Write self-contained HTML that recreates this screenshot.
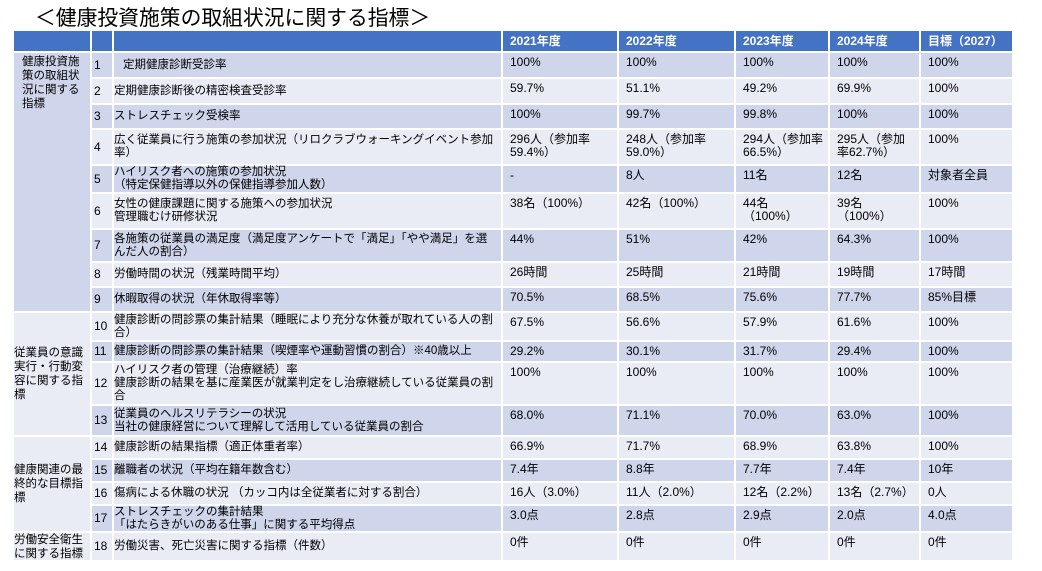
<!DOCTYPE html>
<html><head><meta charset="utf-8">
<style>
html,body{margin:0;padding:0;background:#fff;}
body{width:1042px;height:571px;position:relative;overflow:hidden;font-family:"Liberation Sans","Noto Sans CJK JP",sans-serif;color:#000;}
.title{position:absolute;left:35px;top:8px;font-size:20.8px;line-height:21px;white-space:nowrap;color:#000;}
.grid{position:absolute;left:14px;top:31px;display:grid;
grid-template-columns:76px 20px 387px 114px 115px 92px 89px 91px;
grid-template-rows:20px 24px 24px 23px 34px 26px 34px 31px 23px 23px 27px 19px 41px 29px 21px 21px 21px 25px 27px;
gap:2px;font-size:11.5px;line-height:13px;}
.grid>div{white-space:nowrap;box-sizing:border-box;}
.h{background:#4472C4;color:#fff;font-weight:bold;font-size:12px;display:flex;align-items:center;padding-left:7px;}
.d{background:#CFD5EA;}
.l{background:#E9EBF5;}
.n{display:flex;align-items:center;padding-left:2px;font-size:12px;}
.t{display:flex;align-items:center;padding-left:0px;}
.v{padding:3px 0 0 7px;font-size:12px;}
.g{line-height:14px;}
.g1{grid-column:1;grid-row:2 / 11;padding:2px 0 0 8px;}
.g2{grid-column:1;grid-row:11 / 15;display:flex;align-items:center;}
.g3{grid-column:1;grid-row:15 / 19;display:flex;align-items:center;}
.g4{grid-column:1;grid-row:19 / 20;display:flex;align-items:center;}
</style></head><body>
<div class="title">＜健康投資施策の取組状況に関する指標＞</div>
<div class="grid">
<div class="h"></div><div class="h"></div><div class="h"></div>
<div class="h">2021年度</div><div class="h">2022年度</div><div class="h">2023年度</div><div class="h">2024年度</div><div class="h">目標（2027）</div>

<div class="g g1 d">健康投資施<br>策の取組状<br>況に関する<br>指標</div>
<div class="n d">1</div><div class="t d"><span style="margin-left:9px">定期健康診断受診率</span></div>
<div class="v d">100%</div><div class="v d">100%</div><div class="v d">100%</div><div class="v d">100%</div><div class="v d">100%</div>

<div class="n l">2</div><div class="t l">定期健康診断後の精密検査受診率</div>
<div class="v l">59.7%</div><div class="v l">51.1%</div><div class="v l">49.2%</div><div class="v l">69.9%</div><div class="v l">100%</div>

<div class="n d">3</div><div class="t d">ストレスチェック受検率</div>
<div class="v d">100%</div><div class="v d">99.7%</div><div class="v d">99.8%</div><div class="v d">100%</div><div class="v d">100%</div>

<div class="n l">4</div><div class="t l"><div>広く従業員に行う施策の参加状況（リロクラブウォーキングイベント参加<br>率）</div></div>
<div class="v l">296人（参加率<br>59.4%）</div><div class="v l">248人（参加率<br>59.0%）</div><div class="v l">294人（参加率<br>66.5%）</div><div class="v l">295人（参加<br>率62.7%）</div><div class="v l">100%</div>

<div class="n d">5</div><div class="t d"><div>ハイリスク者への施策の参加状況<br>（特定保健指導以外の保健指導参加人数）</div></div>
<div class="v d">-</div><div class="v d">8人</div><div class="v d">11名</div><div class="v d">12名</div><div class="v d">対象者全員</div>

<div class="n l">6</div><div class="t l"><div>女性の健康課題に関する施策への参加状況<br>管理職むけ研修状況</div></div>
<div class="v l">38名（100%）</div><div class="v l">42名（100%）</div><div class="v l">44名<br>（100%）</div><div class="v l">39名<br>（100%）</div><div class="v l">100%</div>

<div class="n d">7</div><div class="t d"><div>各施策の従業員の満足度（満足度アンケートで「満足」「やや満足」を選<br>んだ人の割合）</div></div>
<div class="v d">44%</div><div class="v d">51%</div><div class="v d">42%</div><div class="v d">64.3%</div><div class="v d">100%</div>

<div class="n l">8</div><div class="t l">労働時間の状況（残業時間平均）</div>
<div class="v l">26時間</div><div class="v l">25時間</div><div class="v l">21時間</div><div class="v l">19時間</div><div class="v l">17時間</div>

<div class="n d">9</div><div class="t d">休暇取得の状況（年休取得率等）</div>
<div class="v d">70.5%</div><div class="v d">68.5%</div><div class="v d">75.6%</div><div class="v d">77.7%</div><div class="v d">85%目標</div>

<div class="g g2 l">従業員の意識<br>実行・行動変<br>容に関する指<br>標</div>
<div class="n l">10</div><div class="t l"><div>健康診断の問診票の集計結果（睡眠により充分な休養が取れている人の割<br>合）</div></div>
<div class="v l">67.5%</div><div class="v l">56.6%</div><div class="v l">57.9%</div><div class="v l">61.6%</div><div class="v l">100%</div>

<div class="n d">11</div><div class="t d">健康診断の問診票の集計結果（喫煙率や運動習慣の割合）※40歳以上</div>
<div class="v d">29.2%</div><div class="v d">30.1%</div><div class="v d">31.7%</div><div class="v d">29.4%</div><div class="v d">100%</div>

<div class="n l">12</div><div class="t l"><div>ハイリスク者の管理（治療継続）率<br>健康診断の結果を基に産業医が就業判定をし治療継続している従業員の割<br>合</div></div>
<div class="v l">100%</div><div class="v l">100%</div><div class="v l">100%</div><div class="v l">100%</div><div class="v l">100%</div>

<div class="n d">13</div><div class="t d"><div>従業員のヘルスリテラシーの状況<br>当社の健康経営について理解して活用している従業員の割合</div></div>
<div class="v d">68.0%</div><div class="v d">71.1%</div><div class="v d">70.0%</div><div class="v d">63.0%</div><div class="v d">100%</div>

<div class="g g3 l">健康関連の最<br>終的な目標指<br>標</div>
<div class="n l">14</div><div class="t l">健康診断の結果指標（適正体重者率）</div>
<div class="v l">66.9%</div><div class="v l">71.7%</div><div class="v l">68.9%</div><div class="v l">63.8%</div><div class="v l">100%</div>

<div class="n d">15</div><div class="t d">離職者の状況（平均在籍年数含む）</div>
<div class="v d">7.4年</div><div class="v d">8.8年</div><div class="v d">7.7年</div><div class="v d">7.4年</div><div class="v d">10年</div>

<div class="n l">16</div><div class="t l">傷病による休職の状況 （カッコ内は全従業者に対する割合）</div>
<div class="v l">16人（3.0%）</div><div class="v l">11人（2.0%）</div><div class="v l">12名（2.2%）</div><div class="v l">13名（2.7%）</div><div class="v l">0人</div>

<div class="n d">17</div><div class="t d"><div>ストレスチェックの集計結果<br>「はたらきがいのある仕事」に関する平均得点</div></div>
<div class="v d">3.0点</div><div class="v d">2.8点</div><div class="v d">2.9点</div><div class="v d">2.0点</div><div class="v d">4.0点</div>

<div class="g g4 l">労働安全衛生<br>に関する指標</div>
<div class="n l">18</div><div class="t l">労働災害、死亡災害に関する指標（件数）</div>
<div class="v l">0件</div><div class="v l">0件</div><div class="v l">0件</div><div class="v l">0件</div><div class="v l">0件</div>
</div>
</body></html>
